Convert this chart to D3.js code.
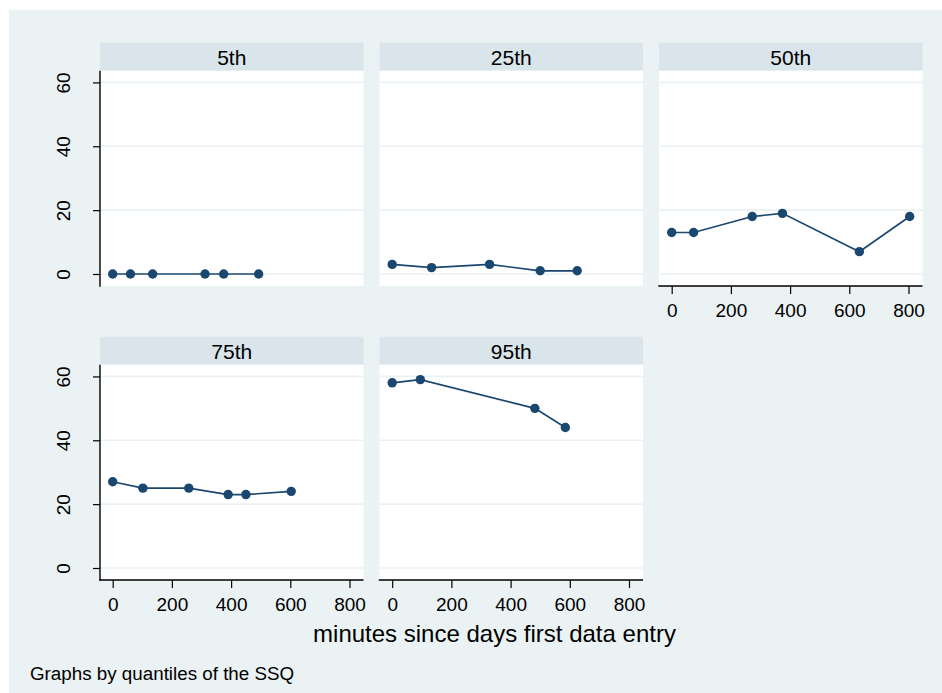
<!DOCTYPE html>
<html>
<head>
<meta charset="utf-8">
<script src="https://cdn.jsdelivr.net/npm/d3@7"></script>
<style>
  html, body { margin: 0; padding: 0; background: #ffffff; }
  svg { display: block; }
  text { font-family: "Liberation Sans", Arial, sans-serif; fill: #000; }
</style>
</head>
<body>
<svg id="chart" width="942" height="693"></svg>
<script>
// ---- data ----
const quantiles = ["5th", "25th", "50th", "75th", "95th"];
const minutes5  = [0, 60, 135, 312, 375, 493];
const ssq5      = [0, 0, 0, 0, 0, 0];
const minutes25 = [0, 133, 329, 500, 625];
const ssq25     = [3, 2, 3, 1, 1];
const minutes50 = [0, 74, 272, 374, 634, 804];
const ssq50     = [13, 13, 18, 19, 7, 18];
const minutes75 = [0, 102, 257, 390, 450, 603];
const ssq75     = [27, 25, 25, 23, 23, 24];
const minutes95 = [0, 95, 482, 585];
const ssq95     = [58, 59, 50, 44];
const xTicks = [0, 200, 400, 600, 800];
const yTicks = [0, 20, 40, 60];
const xTitle = "minutes since days first data entry";
const note = "Graphs by quantiles of the SSQ";

const seriesX = [minutes5, minutes25, minutes50, minutes75, minutes95];
const seriesY = [ssq5, ssq25, ssq50, ssq75, ssq95];

// ---- layout ----
const W = 942, H = 693;
const bgCol = "#eaf2f3", stripCol = "#d9e5eb", lineCol = "#1a476f";
const colLeft0 = 100, colStep = 279.5, panelW = 263.5;
const rowTop0 = 42.7, rowStep = 294, stripH = 28, plotH = 215.3;
const tickFont = 19;

const svg = d3.select("#chart");
svg.append("rect").attr("x", 9).attr("y", 10).attr("width", W - 9).attr("height", H - 10).attr("fill", bgCol);

const hasXAxis = [false, false, true, true, true];
const hasYAxis = [true, false, false, true, false];

quantiles.forEach((q, i) => {
  const col = i % 3, row = Math.floor(i / 3);
  const left = colLeft0 + col * colStep;
  const stripTop = rowTop0 + row * rowStep;
  const top = stripTop + stripH;
  const bottom = top + plotH;

  const x = d3.scaleLinear().domain([-42.9, 847.3]).range([left, left + panelW]);
  const y = d3.scaleLinear().domain([-3.76, 63.67]).range([bottom, top]);

  const g = svg.append("g");
  // strip
  g.append("rect").attr("x", left).attr("y", stripTop).attr("width", panelW).attr("height", stripH).attr("fill", stripCol);
  g.append("text").attr("x", left + panelW / 2).attr("y", stripTop + 22.3)
    .attr("text-anchor", "middle").attr("font-size", 21).text(q);
  // plot region
  g.append("rect").attr("x", left).attr("y", top).attr("width", panelW).attr("height", plotH).attr("fill", "#ffffff");
  // gridlines
  g.selectAll(".grid").data(yTicks).enter().append("line")
    .attr("x1", left).attr("x2", left + panelW)
    .attr("y1", d => y(d)).attr("y2", d => y(d))
    .attr("stroke", bgCol).attr("stroke-width", 1.6);

  // axes
  if (hasYAxis[i]) {
    const ya = g.append("g").attr("transform", `translate(${left},0)`)
      .call(d3.axisLeft(y).tickValues(yTicks).tickSize(7).tickPadding(0).tickFormat(d3.format("d")));
    ya.select(".domain").attr("d", `M0,${top}V${bottom + 0.7}`).attr("stroke", "#000").attr("stroke-width", 1.4);
    ya.selectAll(".tick line").attr("stroke", "#000").attr("stroke-width", 1.2);
    ya.selectAll(".tick text")
      .attr("font-family", "Liberation Sans, Arial, sans-serif")
      .attr("font-size", tickFont).attr("fill", "#000")
      .attr("text-anchor", "middle").attr("dy", null).attr("x", null)
      .attr("transform", "translate(-30,0) rotate(-90)");
  }
  if (hasXAxis[i]) {
    const xa = g.append("g").attr("transform", `translate(0,${bottom})`)
      .call(d3.axisBottom(x).tickValues(xTicks).tickSize(8).tickPadding(0).tickFormat(d3.format("d")));
    xa.select(".domain").attr("d", `M${left - 0.7},0H${left + panelW}`).attr("stroke", "#000").attr("stroke-width", 1.4);
    xa.selectAll(".tick line").attr("stroke", "#000").attr("stroke-width", 1.2);
    xa.selectAll(".tick text")
      .attr("font-family", "Liberation Sans, Arial, sans-serif")
      .attr("font-size", tickFont).attr("fill", "#000")
      .attr("dy", null).attr("y", 30.6);
  }

  // series
  const pts = seriesX[i].map((v, k) => [v, seriesY[i][k]]);
  g.append("path").datum(pts)
    .attr("d", d3.line().x(d => x(d[0])).y(d => y(d[1])))
    .attr("fill", "none").attr("stroke", lineCol).attr("stroke-width", 1.7);
  g.selectAll(".pt").data(pts).enter().append("circle")
    .attr("cx", d => x(d[0])).attr("cy", d => y(d[1])).attr("r", 4.7)
    .attr("fill", lineCol);
});

// axis title and note
svg.append("text").attr("x", 494.5).attr("y", 642).attr("text-anchor", "middle")
  .attr("font-size", 24).text(xTitle);
svg.append("text").attr("x", 30).attr("y", 679.5).attr("font-size", 18.8).text(note);
</script>
</body>
</html>
